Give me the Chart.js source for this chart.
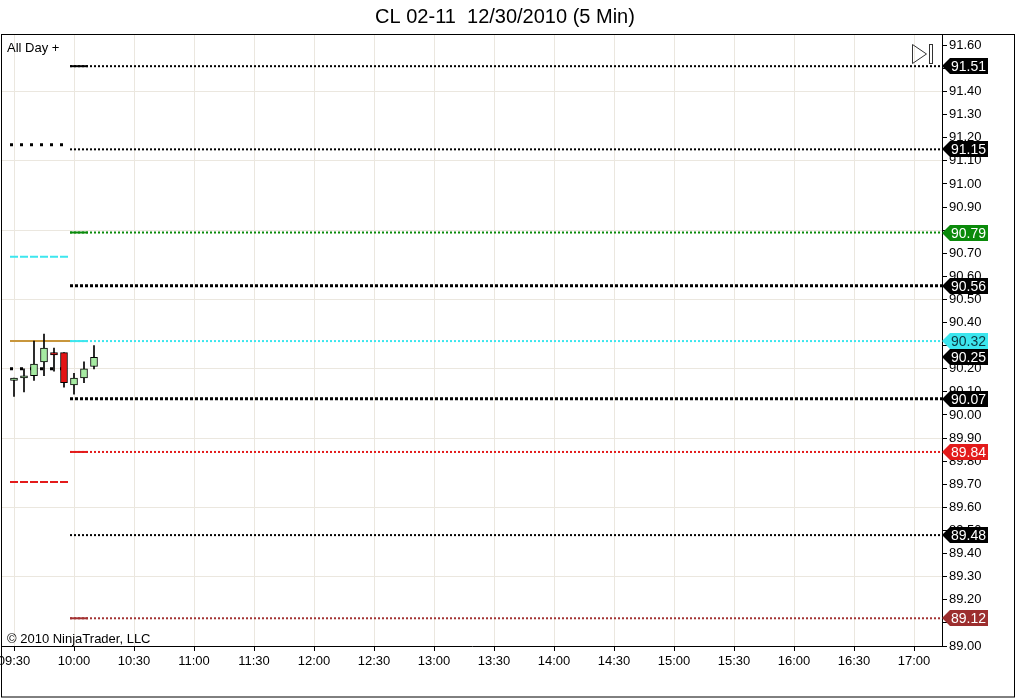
<!DOCTYPE html>
<html>
<head>
<meta charset="utf-8">
<title>CL 02-11 12/30/2010 (5 Min)</title>
<script src="https://cdn.jsdelivr.net/npm/chart.js@4.4.1/dist/chart.umd.min.js"></script>
<style>
  html, body { margin: 0; padding: 0; background: #fff; }
  #wrap { width: 1016px; height: 699px; position: relative; }
</style>
</head>
<body>
<div id="wrap"><canvas id="chart"></canvas></div>
<script>
// 5 minute bars
const barTimes = ['09:30', '09:35', '09:40', '09:45', '09:50', '09:55', '10:00', '10:05', '10:10'];
const opens  = [90.15, 90.16, 90.17, 90.23, 90.27, 90.27, 90.13, 90.16, 90.21];
const highs  = [90.16, 90.20, 90.32, 90.35, 90.29, 90.27, 90.18, 90.23, 90.30];
const lows   = [90.08, 90.10, 90.15, 90.17, 90.19, 90.12, 90.09, 90.14, 90.20];
const closes = [90.16, 90.17, 90.22, 90.29, 90.26, 90.14, 90.16, 90.20, 90.25];
const lastPrice = 90.25;

// levels for today (drawn from 10:00 to the right edge)
const levelValues = [91.51, 91.15, 90.79, 90.56, 90.32, 90.07, 89.84, 89.48, 89.12];
const levelColors = ['#000000', '#000000', '#0a8a0a', '#000000', '#3ce6ee', '#000000', '#e31b1b', '#000000', '#a33232'];
const levelStyles = ['head', 'thin', 'head', 'thick', 'head', 'thick', 'head', 'thin', 'head'];

// levels carried from the prior session (09:28 - 09:57)
const priorValues = [91.17, 90.685, 90.32, 90.20, 89.71];
const priorColors = ['#000000', '#3ce6ee', '#c8963c', '#000000', '#e31b1b'];
const priorStyles = ['square', 'dash', 'solid', 'square', 'dash'];

// axis ticks
const timeTicks = ['09:30', '10:00', '10:30', '11:00', '11:30', '12:00', '12:30', '13:00', '13:30',
                   '14:00', '14:30', '15:00', '15:30', '16:00', '16:30', '17:00'];
const priceTicks = [89.00, 89.10, 89.20, 89.30, 89.40, 89.50, 89.60, 89.70, 89.80, 89.90,
                    90.00, 90.10, 90.20, 90.30, 90.40, 90.50, 90.60, 90.70, 90.80, 90.90,
                    91.00, 91.10, 91.20, 91.30, 91.40, 91.50, 91.60];

const toMin = t => { const [h, m] = t.split(':').map(Number); return h * 60 + m; };

const FONT = "'Liberation Sans', Arial, sans-serif";
const GRID = '#ebe7df';
const xMin = toMin('09:24'), xMax = toMin('17:14');
const levelStart = toMin('09:58'), headEnd = toMin('10:07');
const priorStart = toMin('09:28'), priorEnd = toMin('09:57');

const barX = barTimes.map(toMin);
const wickData = barX.map((x, i) => ({ x: x, y: [lows[i], highs[i]] }));
const bodyData = barX.map((x, i) => ({ x: x, y: [opens[i], closes[i]] }));
const bodyColors = opens.map((o, i) => closes[i] >= o ? '#a6eaa2' : '#e41414');

function hLine(y, x0, x1, color, width, dash, order) {
    return {
        type: 'line',
        data: [{ x: x0, y: y }, { x: x1, y: y }],
        borderColor: color,
        borderWidth: width,
        borderDash: dash,
        borderCapStyle: 'butt',
        pointRadius: 0,
        fill: false,
        order: order
    };
}

const lineSets = [];
levelValues.forEach((v, i) => {
    const st = levelStyles[i];
    if (st === 'thick') {
        lineSets.push(hLine(v, levelStart, xMax, levelColors[i], 3, [3, 2], 5));
    } else {
        lineSets.push(hLine(v, levelStart, xMax, levelColors[i], 2, [2, 2], 5));
        if (st === 'head') lineSets.push(hLine(v, levelStart, headEnd, levelColors[i], 2, [], 4));
    }
});
priorValues.forEach((v, i) => {
    const st = priorStyles[i];
    if (st === 'square') lineSets.push(hLine(v, priorStart, priorEnd, priorColors[i], 3, [3, 7], 6));
    else if (st === 'dash') lineSets.push(hLine(v, priorStart, priorEnd, priorColors[i], 2, [8, 2], 6));
    else lineSets.push(hLine(v, priorStart, toMin('09:59'), priorColors[i], 2, [], 6));
});

// labels in the price axis
const flags = levelValues.map((v, i) => ({
    value: v,
    bg: levelColors[i] === '#a33232' ? '#9c2e2e' : levelColors[i],
    fg: levelColors[i] === '#3ce6ee' ? '#0c3a44' : '#ffffff'
}));
flags.push({ value: lastPrice, bg: '#000000', fg: '#ffffff' });

const decor = {
    id: 'decor',
    beforeDraw(chart) {
        const c = chart.ctx;
        c.save();
        c.fillStyle = '#fff';
        c.fillRect(0, 0, chart.width, chart.height);
        c.restore();
    },
    afterDraw(chart) {
        const c = chart.ctx;
        const ys = chart.scales.y;
        c.save();
        // title
        c.fillStyle = '#000';
        c.font = '20px ' + FONT;
        c.textAlign = 'center';
        c.textBaseline = 'middle';
        c.fillText('CL 02-11  12/30/2010 (5 Min)', 505, 17);
        // frame
        c.strokeStyle = '#000';
        c.lineWidth = 1;
        c.strokeRect(1.5, 34.5, 1013, 662.5);
        // corner texts
        c.font = '13px ' + FONT;
        c.textAlign = 'left';
        c.textBaseline = 'alphabetic';
        c.fillText('All Day +', 7, 52);
        c.fillText('\u00a9 2010 NinjaTrader, LLC', 7, 643);
        // play-to-end icon
        c.strokeStyle = '#333';
        c.beginPath();
        c.moveTo(912.5, 44.5); c.lineTo(926.5, 54); c.lineTo(912.5, 63.5); c.closePath();
        c.stroke();
        c.strokeRect(929.5, 44.5, 3, 19);
        // price flags
        c.font = '14px ' + FONT;
        c.textBaseline = 'middle';
        flags.forEach(f => {
            const y = Math.round(ys.getPixelForValue(f.value));
            c.fillStyle = f.bg;
            c.beginPath();
            c.moveTo(942, y);
            c.lineTo(950, y - 8);
            c.lineTo(988, y - 8);
            c.lineTo(988, y + 8);
            c.lineTo(950, y + 8);
            c.closePath();
            c.fill();
            c.fillStyle = f.fg;
            c.fillText(f.value.toFixed(2), 951, y + 1);
        });
        c.restore();
    }
};

new Chart(document.getElementById('chart'), {
    type: 'bar',
    data: {
        datasets: [
            {
                label: 'bodies',
                data: bodyData,
                backgroundColor: bodyColors,
                borderColor: '#000',
                borderWidth: 1,
                borderSkipped: false,
                barThickness: 7,
                grouped: false,
                order: 1
            },
            {
                label: 'wicks',
                data: wickData,
                backgroundColor: '#000',
                borderWidth: 0,
                barThickness: 1,
                grouped: false,
                order: 2
            },
            ...lineSets
        ]
    },
    plugins: [decor],
    options: {
        responsive: true,
        maintainAspectRatio: false,
        animation: false,
        events: [],
        layout: { padding: { left: 2, right: 2, top: 35, bottom: 2 } },
        plugins: {
            legend: { display: false },
            tooltip: { enabled: false },
            title: { display: false }
        },
        scales: {
            x: {
                type: 'linear',
                min: xMin,
                max: xMax,
                offset: false,
                afterBuildTicks: s => { s.ticks = timeTicks.map(t => ({ value: toMin(t) })); },
                afterFit: s => { s.height = 51; s.paddingLeft = 0; s.paddingRight = 0; },
                grid: { color: GRID, offset: false, tickLength: 5, tickColor: '#000' },
                border: { display: true, color: '#000', width: 1 },
                ticks: {
                    autoSkip: false,
                    maxRotation: 0,
                    padding: 3,
                    color: '#000',
                    font: { family: FONT, size: 13 },
                    callback: v => {
                        const h = Math.floor(v / 60), m = v % 60;
                        return String(h).padStart(2, '0') + ':' + String(m).padStart(2, '0');
                    }
                }
            },
            y: {
                type: 'linear',
                position: 'right',
                min: 89.0,
                max: 91.645,
                afterBuildTicks: s => { s.ticks = priceTicks.map(v => ({ value: v })); },
                afterFit: s => { s.width = 72; s.paddingTop = 0; s.paddingBottom = 0; },
                grid: {
                    color: ctx => {
                        const k = Math.round((ctx.tick.value - 89) * 10);
                        return k % 3 === 0 ? GRID : 'rgba(0,0,0,0)';
                    },
                    tickLength: 5,
                    tickColor: '#000'
                },
                border: { display: true, color: '#000', width: 1 },
                ticks: {
                    autoSkip: false,
                    padding: 2,
                    color: '#000',
                    font: { family: FONT, size: 13 },
                    callback: v => Number(v).toFixed(2)
                }
            }
        }
    }
});
</script>
</body>
</html>
